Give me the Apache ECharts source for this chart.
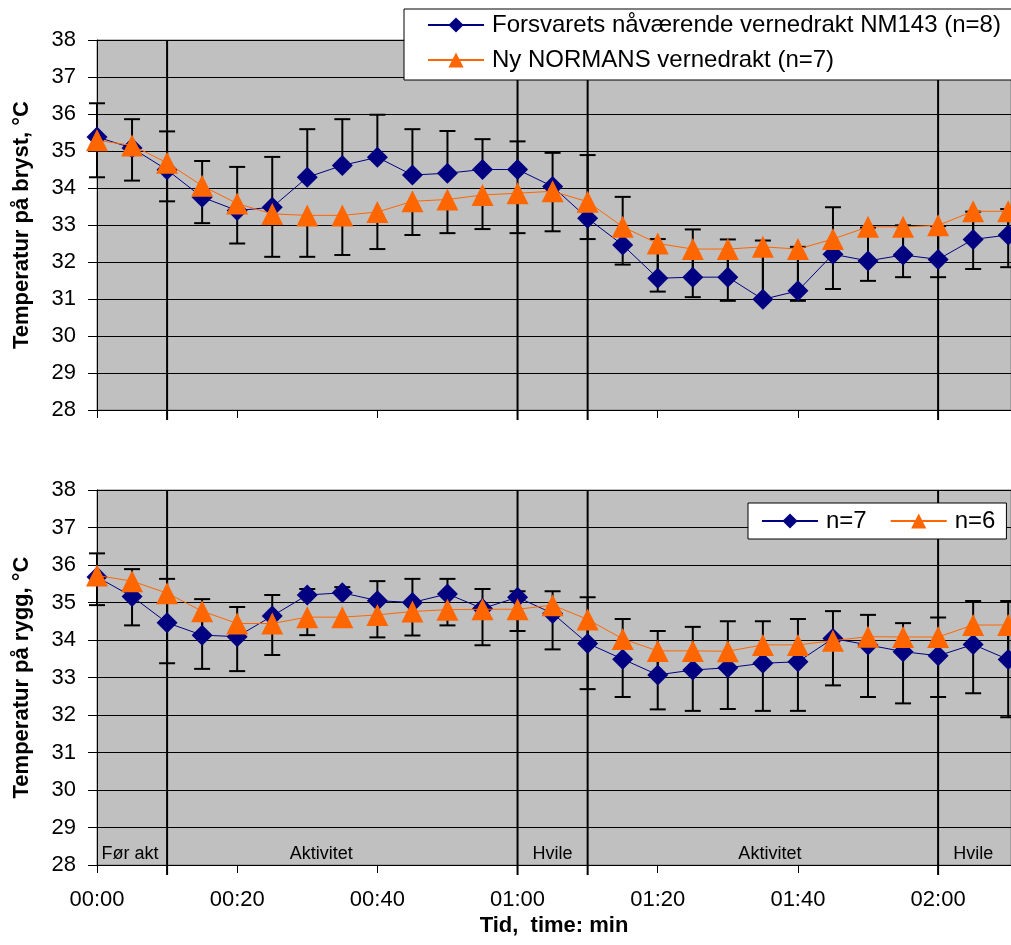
<!DOCTYPE html>
<html><head><meta charset="utf-8">
<script src="https://cdn.jsdelivr.net/npm/echarts@6/dist/echarts.min.js"></script>
<style>html,body{margin:0;padding:0;background:#fff}#c{width:1011px;height:945px}</style>
</head><body><div id="c"></div>
<script>
// time in minutes
const times = [0,5,10,15,20,25,30,35,40,45,50,55,60,65,70,75,80,85,90,95,100,105,110,115,120,125,130];
// tick labels on the time axis (minutes)
const timeTicks = [0,20,40,60,80,100,120];
// phase boundaries (minutes) and phase labels
const phaseLines = [10,60,70,120];
const phaseLabels = ['Før akt','Aktivitet','Hvile','Aktivitet','Hvile'];
const phaseLabelAt = [4.7,32,65,96,125];

// Chest temperature (top panel)
const chestNM143 = [35.38,35.08,34.49,33.75,33.39,33.48,34.29,34.61,34.83,34.35,34.40,34.50,34.50,34.04,33.18,32.46,31.56,31.59,31.59,30.99,31.22,32.21,32.03,32.19,32.07,32.61,32.73];
const chestNM143Sd = [0.91,0.78,1.04,0.98,1.18,1.36,1.30,1.25,1.15,1.24,1.14,0.82,0.76,0.91,1.71,1.30,1.06,1.29,1.02,1.59,1.19,1.27,0.90,0.80,0.90,0.75,0.70];
const chestNormans = [35.29,35.15,34.68,34.06,33.58,33.30,33.26,33.26,33.35,33.64,33.69,33.81,33.86,33.91,33.63,32.95,32.50,32.35,32.35,32.41,32.35,32.62,32.95,32.95,32.99,33.37,33.37];
const chestNormansSd = [1.00,0.95,1.04,1.01,1.08,1.16,1.12,1.07,1.00,0.91,0.91,0.92,1.08,1.08,1.01,1.02,1.30,1.30,1.40,1.45,1.40,1.35,1.46,1.36,1.40,1.56,1.51];

// Back temperature (bottom panel)
const backNM143 = [35.68,35.16,34.46,34.13,34.09,34.64,35.20,35.26,35.05,35.00,35.23,34.84,35.14,34.71,33.91,33.49,33.07,33.20,33.26,33.38,33.42,34.04,33.87,33.69,33.58,33.88,33.48];
const backNM143Sd = [0.63,0.73,1.17,0.96,0.79,0.56,0.16,0.15,0.52,0.63,0.40,0.52,0.16,0.59,1.23,1.07,1.17,1.15,1.24,1.12,1.14,0.73,0.80,0.76,1.02,1.16,1.56];
const backNormans = [35.72,35.57,35.25,34.77,34.44,34.44,34.61,34.61,34.67,34.76,34.81,34.82,34.82,34.93,34.55,34.03,33.71,33.71,33.70,33.87,33.87,33.98,34.09,34.08,34.08,34.40,34.40];
const backNormansSd = [0.79,1.18,1.87,1.54,1.27,0.84,0.48,0.26,0.60,0.64,0.42,0.96,0.58,1.18,1.86,1.55,1.56,1.60,1.54,1.76,1.76,1.19,1.61,1.77,1.60,1.82,2.46];

const names = {
  chestA: 'Forsvarets nåværende vernedrakt NM143 (n=8)',
  chestB: 'Ny NORMANS vernedrakt (n=7)',
  backA: 'n=7',
  backB: 'n=6'
};
const yMin = 28, yMax = 38, xMax = 130.4;
const FONT = '"Liberation Sans", Arial, sans-serif';
const BLUE = '#000080', ORANGE = '#FF6600';

const chart = echarts.init(document.getElementById('c'), null, {renderer: 'canvas'});

function pairs(vals) { return times.map((t, i) => [t, vals[i]]); }
function errData(vals, sd, dir) { return times.map((t, i) => [t, vals[i], +(vals[i] + dir * sd[i]).toFixed(3)]); }
function errRender(params, api) {
  const t = api.value(0), v = api.value(1), e = api.value(2);
  const p1 = api.coord([t, v]), p2 = api.coord([t, e]);
  const hw = 8;
  return {type: 'group', children: [
    {type: 'line', shape: {x1: p1[0], y1: p1[1], x2: p2[0], y2: p2[1]}, style: {stroke: '#000', lineWidth: 2}},
    {type: 'line', shape: {x1: p2[0] - hw, y1: p2[1], x2: p2[0] + hw, y2: p2[1]}, style: {stroke: '#000', lineWidth: 2}}
  ]};
}
function phaseRender(params, api) {
  const x = api.value(0);
  const a = api.coord([x, yMax]), b = api.coord([x, yMin]);
  return {type: 'line', shape: {x1: a[0], y1: a[1], x2: b[0], y2: b[1] + 10}, style: {stroke: '#000', lineWidth: 2}};
}
function labelRender(params, api) {
  const p = api.coord([api.value(0), yMin]);
  return {type: 'text', x: p[0], y: p[1] - 2, style: {text: phaseLabels[params.dataIndex], fill: '#000', fontSize: 18, fontFamily: FONT, align: 'center', verticalAlign: 'bottom'}};
}
function fmtTime(v) {
  if (timeTicks.indexOf(v) < 0) return '';
  const h = Math.floor(v / 60), m = v % 60;
  return String(h).padStart(2, '0') + ':' + String(m).padStart(2, '0');
}

function xAxis(gridIndex, showLabels) {
  return {
    type: 'value', gridIndex, min: 0, max: xMax, interval: 20,
    axisLine: {show: true, lineStyle: {color: '#000', width: 1}},
    axisTick: {show: true, length: 8, lineStyle: {color: '#000', width: 1}},
    splitLine: {show: false},
    axisLabel: {show: showLabels, formatter: fmtTime, fontSize: 22, fontFamily: FONT, color: '#000', margin: 24, showMaxLabel: false},
    name: showLabels ? 'Tid,  time: min' : '',
    nameLocation: 'middle', nameGap: 50,
    nameTextStyle: {fontSize: 22, fontWeight: 'bold', fontFamily: FONT, color: '#000'}
  };
}
function yAxis(gridIndex, name) {
  return {
    type: 'value', gridIndex, min: yMin, max: yMax, interval: 1,
    axisLine: {show: true, lineStyle: {color: '#000', width: 1}},
    axisTick: {show: true, length: 9, lineStyle: {color: '#000', width: 1}},
    splitLine: {show: true, lineStyle: {color: '#000', width: 1}},
    axisLabel: {fontSize: 22, fontFamily: FONT, color: '#000', margin: 21},
    name, nameLocation: 'middle', nameGap: 64,
    nameTextStyle: {fontSize: 22, fontWeight: 'bold', fontFamily: FONT, color: '#000'}
  };
}
function lineSeries(name, idx, vals, color, symbol, size, z) {
  return {
    type: 'line', name, xAxisIndex: idx, yAxisIndex: idx, data: pairs(vals),
    symbol, symbolSize: size, showSymbol: true, z,
    lineStyle: {color, width: 1}, itemStyle: {color},
    emphasis: {disabled: true}, animation: false
  };
}
function errSeries(idx, vals, sd, dir) {
  return {
    type: 'custom', xAxisIndex: idx, yAxisIndex: idx, renderItem: errRender,
    data: errData(vals, sd, dir), encode: {x: 0, y: [1, 2]}, z: 1, clip: false, silent: true, animation: false
  };
}
function phaseSeries(idx) {
  return {
    type: 'custom', xAxisIndex: idx, yAxisIndex: idx, renderItem: phaseRender,
    data: phaseLines.map(x => [x, yMin]), encode: {x: 0, y: 1}, z: 1, clip: false, silent: true, animation: false
  };
}

const legendBase = {
  icon: undefined, itemWidth: 56, itemHeight: 19, backgroundColor: '#fff',
  borderColor: '#000', borderWidth: 1, borderRadius: 0,
  textStyle: {fontSize: 24, fontFamily: FONT, color: '#000', padding: [0, 0, 0, 3]},
  selectedMode: false
};

chart.setOption({
  animation: false,
  backgroundColor: '#fff',
  grid: [
    {left: 97, right: 0, top: 40, height: 370, show: true, backgroundColor: '#C0C0C0', borderColor: '#808080', borderWidth: 1},
    {left: 97, right: 0, top: 490, height: 375, show: true, backgroundColor: '#C0C0C0', borderColor: '#808080', borderWidth: 1}
  ],
  xAxis: [xAxis(0, false), xAxis(1, true)],
  yAxis: [yAxis(0, 'Temperatur på bryst, °C'), yAxis(1, 'Temperatur på rygg, °C')],
  legend: [
    Object.assign({}, legendBase, {data: [names.chestA, names.chestB], orient: 'vertical', left: 404, top: 9, padding: [4, 30, 8, 23], itemGap: 11}),
    Object.assign({}, legendBase, {data: [names.backA, names.backB], orient: 'horizontal', left: 748, top: 503, padding: [6, 11, 6, 13], itemGap: 23})
  ],
  series: [
    phaseSeries(0), phaseSeries(1),
    errSeries(0, chestNM143, chestNM143Sd, 1),
    errSeries(0, chestNormans, chestNormansSd, -1),
    errSeries(1, backNM143, backNM143Sd, 1),
    errSeries(1, backNormans, backNormansSd, -1),
    lineSeries(names.chestA, 0, chestNM143, BLUE, 'diamond', 21, 3),
    lineSeries(names.chestB, 0, chestNormans, ORANGE, 'triangle', 22, 4),
    lineSeries(names.backA, 1, backNM143, BLUE, 'diamond', 21, 3),
    lineSeries(names.backB, 1, backNormans, ORANGE, 'triangle', 22, 4),
    {
      type: 'custom', xAxisIndex: 1, yAxisIndex: 1, renderItem: labelRender,
      data: phaseLabelAt.map(x => [x, yMin]), encode: {x: 0, y: 1}, z: 5, clip: false, silent: true, animation: false
    }
  ]
});
</script>
</body></html>
